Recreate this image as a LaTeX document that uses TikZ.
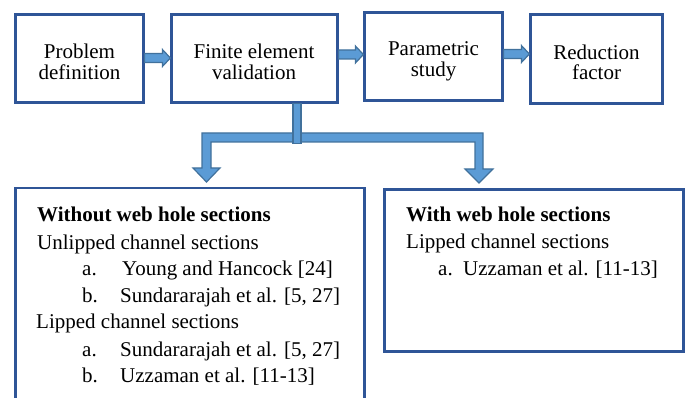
\documentclass[tikz,border=0pt]{standalone}
\usepackage{fontspec}
\setmainfont{Liberation Serif}
\usetikzlibrary{calc}
\definecolor{boxblue}{RGB}{47,85,151}
\definecolor{arrfill}{RGB}{91,155,213}
\definecolor{arredge}{RGB}{65,113,156}
\tikzset{
  topbox/.style={draw=boxblue, line width=2.2pt, inner sep=0pt},
  bigbox/.style={draw=boxblue, line width=2.2pt, inner sep=0pt},
  ctxt/.style={anchor=base, inner sep=0pt, font=\fontsize{21}{25}\selectfont},
  txt/.style={anchor=base west, inner sep=0pt, font=\fontsize{21}{25}\selectfont},
  blockarr/.style={fill=arrfill, draw=arredge, line width=1.2pt, line join=miter}
}
\newcommand\harrow[3]{%
  \path[blockarr] let \p1=(#1.east), \p2=(#2.west), \p3=(0,#3) in
    (\x1,\y3+4.5pt) -- (\x2-8pt,\y3+4.5pt) -- (\x2-8pt,\y3+8.5pt) -- (\x2,\y3)
    -- (\x2-8pt,\y3-8.5pt) -- (\x2-8pt,\y3-4.5pt) -- (\x1,\y3-4.5pt) -- cycle;}
\begin{document}
\begin{tikzpicture}[x=1pt,y=-1pt]
\useasboundingbox (0,0) rectangle (688,398);
\clip (0,0) rectangle (688,398);

% top boxes
\node[topbox, minimum width=128pt, minimum height=88pt] (b1) at (79.5,58.5) {};
\node[topbox, minimum width=166pt, minimum height=88pt] (b2) at (254.5,58.5) {};
\node[topbox, minimum width=138pt, minimum height=88pt] (b3) at (433.5,56.5) {};
\node[topbox, minimum width=132pt, minimum height=89pt] (b4) at (596.5,59) {};

% texts of top boxes
\node[ctxt] (t1a) at (79.5,59) {Problem};
\node[ctxt] (t1b) at (79.5,79.5) {definition};
\node[ctxt] (t2a) at (254,58.5) {Finite element};
\node[ctxt] (t2b) at (254,79.5) {validation};
\node[ctxt] (t3a) at (433.5,56) {Parametric};
\node[ctxt] (t3b) at (433.5,77) {study};
\node[ctxt] (t4a) at (596.5,59.5) {Reduction};
\node[ctxt] (t4b) at (596.5,80) {factor};

% block arrows between top boxes
\harrow{b1}{b2}{58}
\harrow{b2}{b3}{54.5}
\harrow{b3}{b4}{54}

% bottom boxes
\node[bigbox, minimum width=349pt, minimum height=232pt] (bl) at (190,304) {};
\node[bigbox, minimum width=299pt, minimum height=162pt] (br) at (534,270.5) {};

% branching arrow
\coordinate (stubtop) at ($(b2.south)+(42.5,0)$);
\coordinate (tl) at (206.5,182);
\coordinate (tr) at (479,183);
\path[blockarr] (202,133) -- (483,133) -- (483,169) -- (493,169) -- (tr)
  -- (465,169) -- (475,169) -- (475,142) -- (211,142) -- (211,168)
  -- (220,168) -- (tl) -- (193,168) -- (202,168) -- cycle;
\path[blockarr] ($(stubtop)+(-4,0)$) rectangle ($(stubtop)+(4,40)$);

% text of left box
\node[txt] (l1) at (37,222) {\textbf{Without web hole sections}};
\node[txt] (l2) at (37,249) {Unlipped channel sections};
\node[txt] (l3a) at (82,276) {a.};
\node[txt] (l3) at (122,276) {Young and Hancock [24]};
\node[txt] (l4a) at (82,302) {b.};
\node[txt] (l4) at (120,302) {Sundararajah et al. [5, 27]};
\node[txt] (l5) at (36,328) {Lipped channel sections};
\node[txt] (l6a) at (82,356) {a.};
\node[txt] (l6) at (120,356) {Sundararajah et al. [5, 27]};
\node[txt] (l7a) at (82,382) {b.};
\node[txt] (l7) at (120,382) {Uzzaman et al. [11-13]};

% text of right box
\node[txt] (r1) at (406,222) {\textbf{With web hole sections}};
\node[txt] (r2) at (406,248) {Lipped channel sections};
\node[txt] (r3a) at (438,275) {a.};
\node[txt] (r3) at (463,275) {Uzzaman et al. [11-13]};
\end{tikzpicture}
\end{document}
